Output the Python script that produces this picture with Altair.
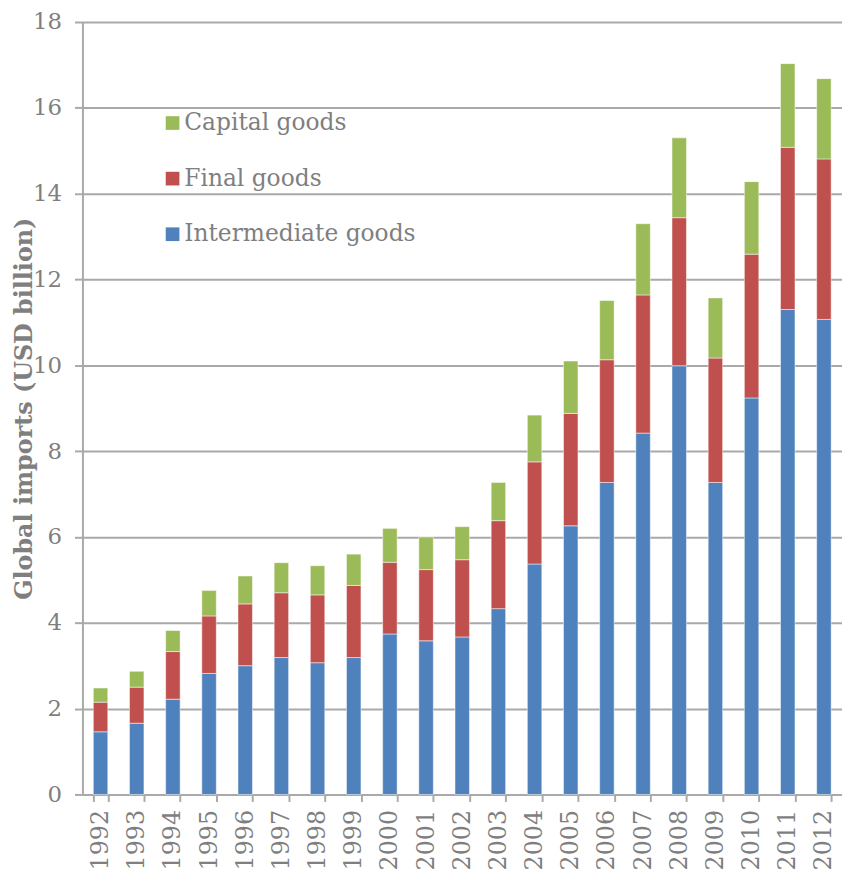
import altair as alt
import pandas as pd

years = [str(y) for y in range(1992, 2013)]
intermediate = [1.46, 1.66, 2.22, 2.82, 3.00, 3.19, 3.07, 3.19, 3.74, 3.58, 3.67,
                4.33, 5.37, 6.26, 7.27, 8.42, 9.99, 7.27, 9.24, 11.30, 11.07]
final_goods = [0.69, 0.84, 1.11, 1.34, 1.44, 1.51, 1.58, 1.68, 1.67, 1.66, 1.80,
               2.05, 2.38, 2.62, 2.86, 3.22, 3.45, 2.90, 3.35, 3.78, 3.74]
capital = [0.33, 0.37, 0.49, 0.59, 0.65, 0.70, 0.68, 0.73, 0.79, 0.76, 0.77,
           0.89, 1.09, 1.22, 1.38, 1.66, 1.86, 1.40, 1.69, 1.95, 1.87]

series_names = ["Intermediate goods", "Final goods", "Capital goods"]
legend_order = ["Capital goods", "Final goods", "Intermediate goods"]
legend_colors = ["#9BBB59", "#C0504D", "#4F81BD"]
y_ticks = [0, 2, 4, 6, 8, 10, 12, 14, 16, 18]

rows = []
for i, yr in enumerate(years):
    for k, (name, vals) in enumerate(zip(series_names, [intermediate, final_goods, capital])):
        rows.append({"year": yr, "series": name, "value": vals[i], "rank": k})
df = pd.DataFrame(rows)

gray = "#7f7f7f"
line_gray = "#a9a9a9"

chart = alt.Chart(df).mark_bar(stroke="white", strokeWidth=0.7, strokeOpacity=0.7).encode(
    x=alt.X("year:N", title=None, sort=years,
            scale=alt.Scale(paddingInner=0.6, paddingOuter=0.3),
            axis=alt.Axis(labelAngle=-90, tickBand="extent", tickSize=7, labelPadding=8,
                          labelFont="DejaVu Serif", labelFontSize=24, labelColor=gray,
                          domainColor=line_gray, domainWidth=2, tickColor=line_gray,
                          tickWidth=2, grid=False)),
    y=alt.Y("value:Q", stack="zero",
            scale=alt.Scale(domain=[0, 18], nice=False),
            axis=alt.Axis(values=y_ticks, title="Global imports (USD billion)",
                          titleFont="DejaVu Serif", titleFontSize=24, titleFontWeight="bold",
                          titleColor=gray, titleX=-46, titleBaseline="bottom",
                          labelFont="DejaVu Serif", labelFontSize=23, labelColor=gray,
                          labelPadding=13, tickSize=8, tickColor=line_gray, tickWidth=2,
                          domainColor=line_gray, domainWidth=2,
                          grid=True, gridColor=line_gray, gridWidth=2)),
    color=alt.Color("series:N",
                    scale=alt.Scale(domain=legend_order, range=legend_colors),
                    legend=alt.Legend(title=None, orient="none", legendX=79, legendY=90,
                                      symbolType="square", symbolSize=190, symbolStrokeWidth=0,
                                      labelFont="DejaVu Serif", labelFontSize=23.5,
                                      labelColor=gray, labelOffset=0, rowPadding=31,
                                      padding=0, labelLimit=400)),
    order=alt.Order("rank:Q", sort="ascending"),
).properties(
    width=765, height=778,
    autosize=alt.AutoSizeParams(type="none"),
    padding={"left": 75, "top": 11, "right": 0, "bottom": 75}
).configure_view(stroke=None)

chart.save("out.html", embed_options={"renderer": "svg", "actions": False})
